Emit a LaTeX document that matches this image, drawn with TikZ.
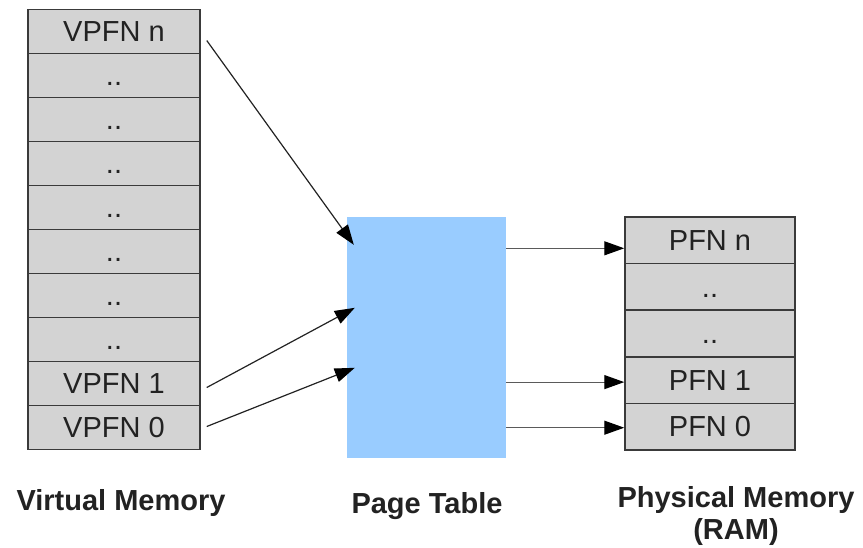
\documentclass[tikz,border=0pt]{standalone}
\usepackage{fontspec}
\setmainfont{Liberation Sans}
\usetikzlibrary{arrows.meta,calc}

\definecolor{cellfill}{HTML}{D3D3D3}
\definecolor{cellline}{HTML}{3A3A3A}
\definecolor{celltext}{HTML}{222222}
\definecolor{tablefill}{HTML}{99CCFF}
\definecolor{linkgray}{HTML}{5A5A5A}

\tikzset{
  vcell/.style={draw=cellline, line width=1.5pt, fill=cellfill, inner sep=0pt,
    minimum width=172pt, minimum height=44pt, text=celltext,
    text height=20.5pt, text depth=0pt,
    font=\fontsize{29}{34}\selectfont},
  pcell/.style={vcell, minimum width=170pt, minimum height=46.6pt},
  tablebox/.style={fill=tablefill, inner sep=0pt, minimum width=159pt, minimum height=241pt},
  caption/.style={font=\fontsize{29}{33}\selectfont\bfseries, text=celltext, anchor=base, inner sep=0pt},
  inlink/.style={draw=celltext, line width=1.2pt, -{Triangle[length=20pt,width=14pt,black]}},
  outlink/.style={draw=linkgray, line width=1.2pt, -{Triangle[length=20pt,width=14pt,black]}},
}

\begin{document}
\begin{tikzpicture}[x=1pt,y=-1pt]
  \useasboundingbox (0,0) rectangle (863,547);

  % virtual memory column
  \foreach \i/\t in {0/VPFN n,1/..,2/..,3/..,4/..,5/..,6/..,7/..,8/VPFN 1,9/VPFN 0}{
    \node[vcell] (v\i) at (114,{9.5+44*(\i+0.5)}) {\t};
  }

  % page table
  \node[tablebox] (pt) at (426.5,337.5) {};

  % physical memory column
  \foreach \j/\t in {0/PFN n,1/..,2/..,3/PFN 1,4/PFN 0}{
    \node[pcell] (p\j) at (710,{217+46.6*(\j+0.5)}) {\t};
  }

  % virtual page frames into the table
  \coordinate (s0) at ($(v0.east)+(6,9)$);
  \coordinate (s8) at ($(v8.east)+(6,4)$);
  \coordinate (s9) at ($(v9.east)+(6,-1)$);
  \coordinate (e0) at ($(pt.north west)+(7,28)$);
  \coordinate (e8) at ($(pt.north west)+(8,91)$);
  \coordinate (e9) at ($(pt.north west)+(8,151)$);
  \draw[inlink] (s0) -- (e0);
  \draw[inlink] (s8) -- (e8);
  \draw[inlink] (s9) -- (e9);

  % table out to physical frames
  \coordinate (q0) at ($(p0.west)+(0,8)$);
  \coordinate (q3) at ($(p3.west)+(0,2)$);
  \coordinate (q4) at ($(p4.west)+(0,1)$);
  \draw[outlink] (pt.east |- q0) -- (q0);
  \draw[outlink] (pt.east |- q3) -- (q3);
  \draw[outlink] (pt.east |- q4) -- (q4);

  % captions
  \node[caption] (cv) at (121,510) {Virtual Memory};
  \node[caption] (cp) at (427,513) {Page Table};
  \node[caption] (cr1) at (736,507) {Physical Memory};
  \node[caption] (cr2) at (736,539) {(RAM)};
\end{tikzpicture}
\end{document}
